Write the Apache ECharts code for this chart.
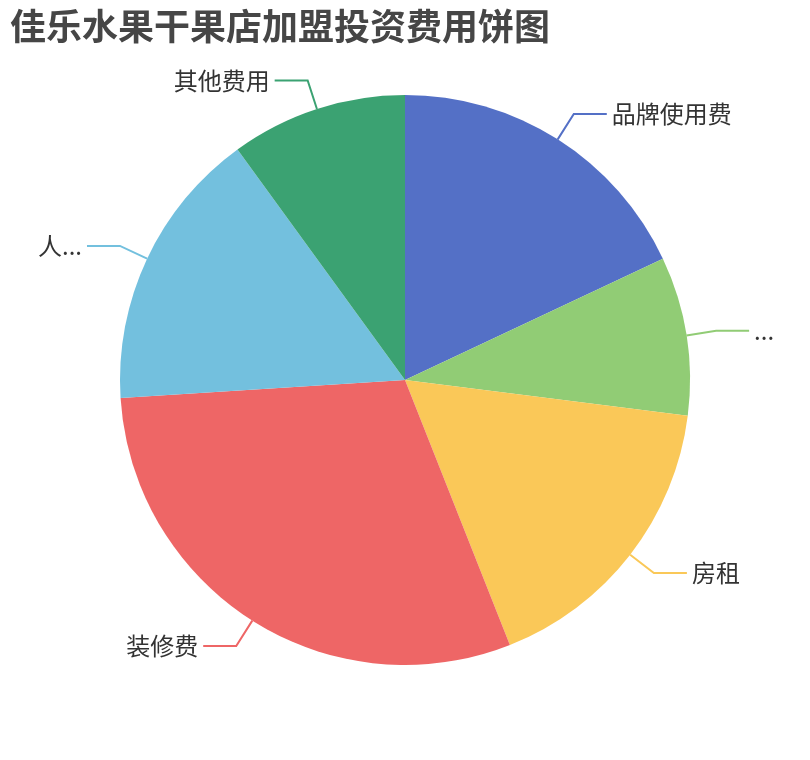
<!DOCTYPE html>
<html>
<head>
<meta charset="utf-8">
<script src="https://cdn.jsdelivr.net/npm/echarts@6/dist/echarts.min.js"></script>
<style>
  html, body { margin: 0; padding: 0; background: #fff; }
  #main { width: 810px; height: 760px; }
</style>
</head>
<body>
<div id="main"></div>
<script>
var names = ['品牌使用费', '设备购置费', '房租', '装修费', '人员工资', '其他费用']
var values = [18, 9, 17, 30, 16, 10]

var myChart = echarts.init(document.getElementById('main'))

// labels squeezed by the chart edge in the original get truncated
var squeezed = { '设备购置费': 22, '人员工资': 46 }

function pieData() {
  return names.map((n, i) => {
    let item = { name: n, value: values[i] }
    if (squeezed[n]) item.label = { width: squeezed[n], overflow: 'truncate' }
    return item
  })
}

let option = {
  color: ['#5470c6', '#91cc75', '#fac858', '#ee6666', '#73c0de', '#3ba272'],
  title: {
    text: '佳乐水果干果店加盟投资费用饼图',
    left: 5,
    top: 3,
    textStyle: {
      fontSize: 36,
      fontWeight: 'bold',
      color: '#464646',
      fontFamily: 'Noto Sans CJK SC'
    }
  },
  series: [{
    type: 'pie',
    center: ['50%', '50%'],
    radius: '75%',
    data: pieData(),
    label: {
      fontSize: 24,
      color: '#333',
      fontFamily: 'Noto Sans CJK SC'
    },
    labelLine: {
      length: 30,
      length2: 33,
      lineStyle: { width: 2 }
    }
  }]
}
myChart.setOption(option)
</script>
</body>
</html>
